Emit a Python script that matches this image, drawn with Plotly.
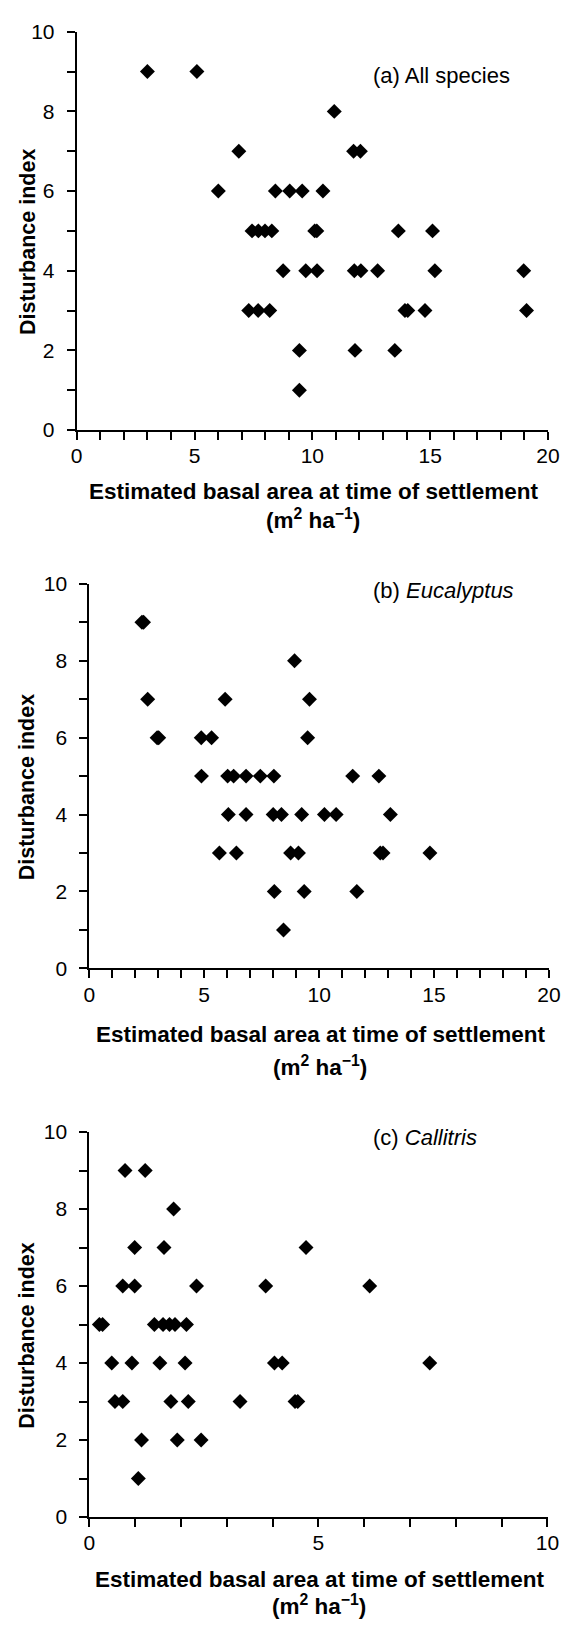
import plotly.graph_objects as go

# ---------------- data ----------------
# (a) All species
a_x = [3.0, 5.1, 10.93, 6.88, 11.75, 12.04,
       6.01, 8.43, 9.04, 9.57, 10.45,
       7.44, 7.71, 7.99, 8.28, 10.10, 10.19, 13.65, 15.10,
       8.76, 9.72, 10.20, 11.78, 12.06, 12.77, 15.20, 18.97,
       7.30, 7.70, 8.19, 13.93, 14.05, 14.78, 19.09,
       9.45, 11.81, 13.50,
       9.45]
a_y = [9, 9, 8, 7, 7, 7,
       6, 6, 6, 6, 6,
       5, 5, 5, 5, 5, 5, 5, 5,
       4, 4, 4, 4, 4, 4, 4, 4,
       3, 3, 3, 3, 3, 3, 3,
       2, 2, 2,
       1]

# (b) Eucalyptus
b_x = [2.29, 2.36,
       8.93,
       2.54, 5.91, 9.58,
       2.95, 3.02, 4.87, 5.32, 9.50,
       4.88, 6.02, 6.28, 6.82, 7.44, 8.03, 11.46, 12.60,
       6.05, 6.82, 8.00, 8.36, 9.24, 10.23, 10.74, 13.10,
       5.66, 6.40, 8.76, 9.10, 12.66, 12.78, 14.82,
       8.05, 9.35, 11.64,
       8.45]
b_y = [9, 9,
       8,
       7, 7, 7,
       6, 6, 6, 6, 6,
       5, 5, 5, 5, 5, 5, 5, 5,
       4, 4, 4, 4, 4, 4, 4, 4,
       3, 3, 3, 3, 3, 3, 3,
       2, 2, 2,
       1]

# (c) Callitris
c_x = [0.78, 1.22,
       1.84,
       0.99, 1.63, 4.73,
       0.73, 0.99, 2.34, 3.85, 6.12,
       0.22, 0.29, 1.42, 1.61, 1.75, 1.87, 2.12,
       0.49, 0.93, 1.54, 2.09, 4.04, 4.21, 7.43,
       0.56, 0.73, 1.78, 2.16, 3.29, 4.49, 4.55,
       1.14, 1.92, 2.44,
       1.07]
c_y = [9, 9,
       8,
       7, 7, 7,
       6, 6, 6, 6, 6,
       5, 5, 5, 5, 5, 5, 5,
       4, 4, 4, 4, 4, 4, 4,
       3, 3, 3, 3, 3, 3, 3,
       2, 2, 2,
       1]

panel_labels = ["(a) All species", "(b) <i>Eucalyptus</i>", "(c) <i>Callitris</i>"]
y_tickvals = [0, 2, 4, 6, 8, 10]
y_ticktext = ["0", "2", "4", "6", "8", "10"]
x20_tickvals = [0, 5, 10, 15, 20]
x20_ticktext = ["0", "5", "10", "15", "20"]
x10_tickvals = [0, 5, 10]
x10_ticktext = ["0", "5", "10"]
x_title_1 = "Estimated basal area at time of settlement"
x_title_2 = "(m<sup>2</sup> ha<sup>\u22121</sup>)"
y_title = "Disturbance index"

# ---------------- layout ----------------
W, H = 575, 1637
FONT = "Liberation Sans, Arial, sans-serif"

def px_x(p):
    return p / W

def px_y(p):
    return 1 - p / H

panels = [
    dict(x=a_x, y=a_y, xl=73.0, xr=559.5, yt=20, yb=424, tv=x20_tickvals, tt=x20_ticktext, xmax=20,
         lab_dy=44, t1=62, t2=90),
    dict(x=b_x, y=b_y, xl=86.0, xr=560.5, yt=580, yb=970, tv=x20_tickvals, tt=x20_ticktext, xmax=20,
         lab_dy=7, t1=67, t2=99),
    dict(x=c_x, y=c_y, xl=86.0, xr=559.0, yt=1136, yb=1526.5, tv=x10_tickvals, tt=x10_ticktext, xmax=10,
         lab_dy=6, t1=63, t2=89),
]

fig = go.Figure()
annotations = []
layout = dict(
    width=W, height=H,
    margin=dict(l=0, r=0, t=0, b=0),
    paper_bgcolor="white", plot_bgcolor="white",
    showlegend=False,
    font=dict(family=FONT, size=21, color="black"),
)

minor_style = dict(dtick=1, ticks="outside", ticklen=8, tickwidth=1.5, tickcolor="black", showgrid=False)

for i, p in enumerate(panels):
    n = "" if i == 0 else str(i + 1)
    fig.add_trace(go.Scatter(
        x=p["x"], y=p["y"], mode="markers",
        xaxis="x" + n, yaxis="y" + n,
        marker=dict(symbol="diamond", size=11.5, color="black", line=dict(width=0)),
        cliponaxis=False, hoverinfo="skip",
    ))
    layout["xaxis" + n] = dict(
        domain=[px_x(p["xl"]), px_x(p["xr"])],
        anchor="y" + n, range=[0, p["xmax"]],
        tickmode="array", tickvals=p["tv"], ticktext=p["tt"],
        ticks="outside", ticklen=8, tickwidth=1.5, tickcolor="black",
        minor=dict(minor_style, tick0=0),
        showline=True, linecolor="black", linewidth=2,
        showgrid=False, zeroline=False,
        tickfont=dict(family=FONT, size=21, color="black"),
        ticklabelstandoff=-2,
        fixedrange=True,
    )
    layout["yaxis" + n] = dict(
        domain=[px_y(p["yb"]), px_y(p["yt"])],
        anchor="x" + n, range=[0, 10],
        tickmode="array", tickvals=y_tickvals, ticktext=y_ticktext,
        ticks="outside", ticklen=8, tickwidth=1.5, tickcolor="black",
        minor=dict(minor_style, tick0=0),
        showline=True, linecolor="black", linewidth=2,
        showgrid=False, zeroline=False,
        tickfont=dict(family=FONT, size=21, color="black"),
        ticklabelstandoff=8,
        fixedrange=True,
    )
    # panel label
    annotations.append(dict(
        xref="paper", yref="paper", x=px_x(377), y=px_y(p["yt"] + p["lab_dy"]),
        text=panel_labels[i], showarrow=False, xanchor="left", yanchor="middle",
        font=dict(family=FONT, size=22, color="black"),
    ))
    cx = (p["xl"] + p["xr"]) / 2 + 1
    annotations.append(dict(
        xref="paper", yref="paper", x=px_x(cx), y=px_y(p["yb"] + p["t1"]),
        text="<b>" + x_title_1 + "</b>", showarrow=False, xanchor="center", yanchor="middle",
        font=dict(family=FONT, size=22.5, color="black"),
    ))
    annotations.append(dict(
        xref="paper", yref="paper", x=px_x(cx), y=px_y(p["yb"] + p["t2"]),
        text="<b>" + x_title_2 + "</b>", showarrow=False, xanchor="center", yanchor="middle",
        font=dict(family=FONT, size=22.5, color="black"),
    ))
    annotations.append(dict(
        xref="paper", yref="paper", x=px_x(22), y=px_y((p["yt"] + p["yb"]) / 2 + 11),
        text="<b>" + y_title + "</b>", showarrow=False, textangle=-90,
        xanchor="center", yanchor="middle",
        font=dict(family=FONT, size=21.5, color="black"),
    ))

layout["annotations"] = annotations
fig.update_layout(**layout)
fig.write_html("out.html")
